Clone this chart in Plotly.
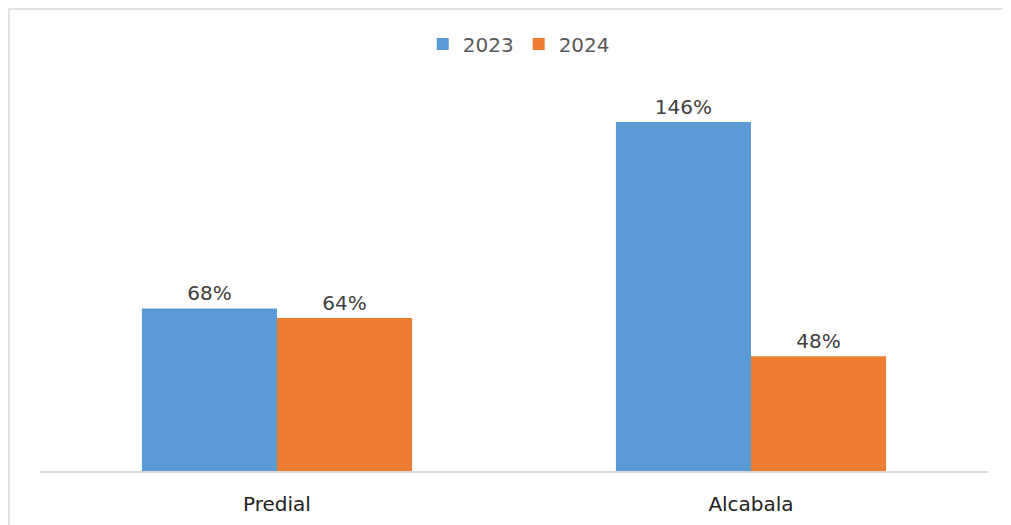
import plotly.graph_objects as go

categories = ['Predial', 'Alcabala']
years = ['2023', '2024']
values_2023 = [0.68, 1.46]
values_2024 = [0.64, 0.48]

colors = {'2023': '#5B9BD5', '2024': '#ED7D31'}
font_family = 'DejaVu Sans, Arial, sans-serif'

fig = go.Figure()
for year, vals in zip(years, [values_2023, values_2024]):
    fig.add_trace(go.Bar(
        x=categories,
        y=vals,
        name=year,
        marker_color=colors[year],
        marker_line_width=0,
        texttemplate='%{y:.0%}',
        textposition='outside',
        textfont=dict(size=20, color='#404040', family=font_family),
        cliponaxis=False,
    ))

# page body adds an offset, so the figure is sized to fit inside the window
fig.update_layout(
    width=1003,
    height=517,
    barmode='group',
    bargap=0.43,
    bargroupgap=0,
    paper_bgcolor='white',
    plot_bgcolor='white',
    margin=dict(l=32, r=23, t=12, b=54),
    font=dict(family=font_family, size=20, color='#404040'),
    showlegend=True,
    legend=dict(
        orientation='h',
        x=0.505, xanchor='center',
        y=0.947, yanchor='middle',
        font=dict(size=20, color='#595959'),
        itemwidth=30,
        traceorder='normal',
        bgcolor='rgba(0,0,0,0)',
    ),
    xaxis=dict(
        showline=True,
        linecolor='#D9D9D9',
        linewidth=1.5,
        ticks='',
        ticklabelstandoff=14,
        tickfont=dict(size=20, color='#222222'),
        showgrid=False,
        automargin=False,
    ),
    yaxis=dict(
        range=[0, 1.887],
        visible=False,
        showgrid=False,
        zeroline=False,
        automargin=False,
    ),
    shapes=[dict(
        type='rect', xref='paper', yref='paper',
        x0=-0.0327, x1=1.2, y0=-0.3, y1=1.0244,
        line=dict(color='#D9D9D9', width=1.5),
        fillcolor='rgba(0,0,0,0)',
        layer='below',
    )],
)

fig.write_html('out.html')
